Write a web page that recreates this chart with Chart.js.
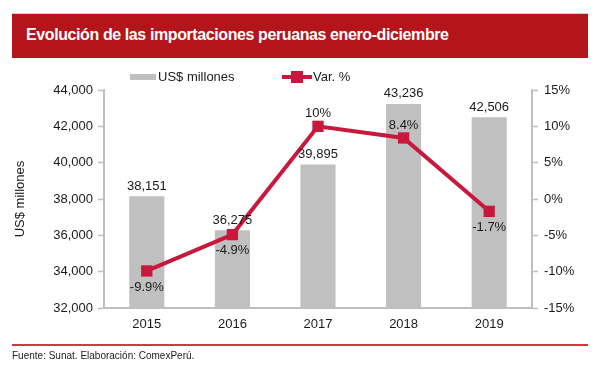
<!DOCTYPE html>
<html><head><meta charset="utf-8">
<script src="https://cdn.jsdelivr.net/npm/chart.js@4.4.1/dist/chart.umd.min.js"></script>
<style>
html,body{margin:0;padding:0;background:#fff;}
#wrap{position:relative;width:598px;height:373px;overflow:hidden;font-family:"Liberation Sans",Arial,sans-serif;}
#banner{position:absolute;left:12px;top:13px;width:576px;height:45px;background:#B3151A;border-top:1px solid #cfcfcf;box-sizing:border-box;}
#title{position:absolute;left:14px;top:12px;color:#fff;font-size:16px;font-weight:bold;letter-spacing:-0.4px;white-space:nowrap;}
#rule{position:absolute;left:12px;top:344px;width:576px;height:2px;background:#D4373F;}
#foot{position:absolute;left:12px;top:350px;font-size:10px;color:#222;white-space:nowrap;}
canvas{position:absolute;left:0;top:0;}
</style></head>
<body><div id="wrap">
<canvas id="c" width="598" height="373"></canvas>
<div id="banner"><div id="title">Evolución de las importaciones peruanas enero-diciembre</div></div>
<div id="rule"></div>
<div id="foot">Fuente: Sunat. Elaboración: ComexPerú.</div>
</div>
<script>
const categories = ["2015","2016","2017","2018","2019"];
const imports = [38151, 36275, 39895, 43236, 42506];
const variation = [-9.9, -4.9, 10, 8.4, -1.7];
const varLabels = ["-9.9%","-4.9%","10%","8.4%","-1.7%"];
const varLabelPos = ["below","below","above","above","below"];
const leftTicks = [32000,34000,36000,38000,40000,42000,44000];
const rightTicks = [-15,-10,-5,0,5,10,15];

const BAR = "#C0C0C0", LINE = "#C8193C", AXIS = "#BFBFBF";
const FONT = '"Liberation Sans", Arial, sans-serif';

const labelsPlugin = {
  id: 'labelsPlugin',
  afterDatasetsDraw(chart) {
    const ctx = chart.ctx;
    ctx.save();
    ctx.font = '13px ' + FONT;
    ctx.fillStyle = '#1a1a1a';
    ctx.textAlign = 'center';
    ctx.textBaseline = 'middle';
    const barMeta = chart.getDatasetMeta(1);
    barMeta.data.forEach((el, i) => {
      ctx.fillText(imports[i].toLocaleString('en-US'), el.x, el.y - 10);
    });
    const lineMeta = chart.getDatasetMeta(0);
    lineMeta.data.forEach((el, i) => {
      const dy = varLabelPos[i] === 'above' ? -13 : 16;
      ctx.fillText(varLabels[i], el.x, el.y + dy);
    });
    // legend
    ctx.fillStyle = BAR;
    ctx.fillRect(130, 74, 26, 6);
    ctx.fillStyle = '#1a1a1a';
    ctx.textAlign = 'left';
    ctx.font = '13px ' + FONT;
    ctx.fillText('US$ millones', 158, 77);
    ctx.strokeStyle = LINE; ctx.lineWidth = 4;
    ctx.beginPath(); ctx.moveTo(282, 77); ctx.lineTo(312, 77); ctx.stroke();
    ctx.fillStyle = LINE;
    ctx.fillRect(291, 71, 12, 12);
    ctx.fillStyle = '#1a1a1a';
    ctx.fillText('Var. %', 313, 77);
    ctx.restore();
  }
};

new Chart(document.getElementById('c'), {
  data: {
    labels: categories,
    datasets: [
      { type: 'line', label: 'Var. %', data: variation, yAxisID: 'y1',
        borderColor: LINE, backgroundColor: LINE, borderWidth: 4,
        pointStyle: 'rect', pointRadius: 8, pointHoverRadius: 8,
        pointBackgroundColor: LINE, pointBorderColor: LINE, pointBorderWidth: 0, order: 0 },
      { type: 'bar', label: 'US$ millones', data: imports, yAxisID: 'y',
        backgroundColor: BAR, categoryPercentage: 1, barPercentage: 0.41, order: 1 }
    ]
  },
  options: {
    responsive: false, animation: false,
    layout: { padding: { top: 90, left: 0, right: 0, bottom: 0 } },
    plugins: { legend: { display: false }, tooltip: { enabled: false } },
    scales: {
      x: {
        grid: { display: false, drawTicks: false },
        border: { color: AXIS, width: 2 },
        ticks: { color: '#1a1a1a', font: { size: 13, family: FONT }, padding: 9 },
        afterFit(s) { s.height = 65; }
      },
      y: {
        position: 'left', min: 32000, max: 44000,
        afterBuildTicks(s) { s.ticks = leftTicks.map(v => ({ value: v })); },
        grid: { drawOnChartArea: false, drawTicks: true, tickLength: 6, color: AXIS, tickWidth: 1.5 },
        border: { color: AXIS, width: 2 },
        ticks: { color: '#1a1a1a', font: { size: 13, family: FONT }, padding: 5,
          callback: v => v.toLocaleString('en-US') },
        title: { display: true, text: 'US$ millones', color: '#1a1a1a', font: { size: 13, family: FONT }, padding: { top: 13, bottom: 0 } },
        afterFit(s) { s.width = 104; }
      },
      y1: {
        position: 'right', min: -15, max: 15,
        afterBuildTicks(s) { s.ticks = rightTicks.map(v => ({ value: v })); },
        grid: { drawOnChartArea: false, drawTicks: true, tickLength: 6, color: AXIS, tickWidth: 1.5 },
        border: { color: AXIS, width: 2 },
        ticks: { color: '#1a1a1a', font: { size: 13, family: FONT }, padding: 6,
          callback: v => v + '%' },
        afterFit(s) { s.width = 66; }
      }
    }
  },
  plugins: [labelsPlugin]
});
</script>
</body></html>
